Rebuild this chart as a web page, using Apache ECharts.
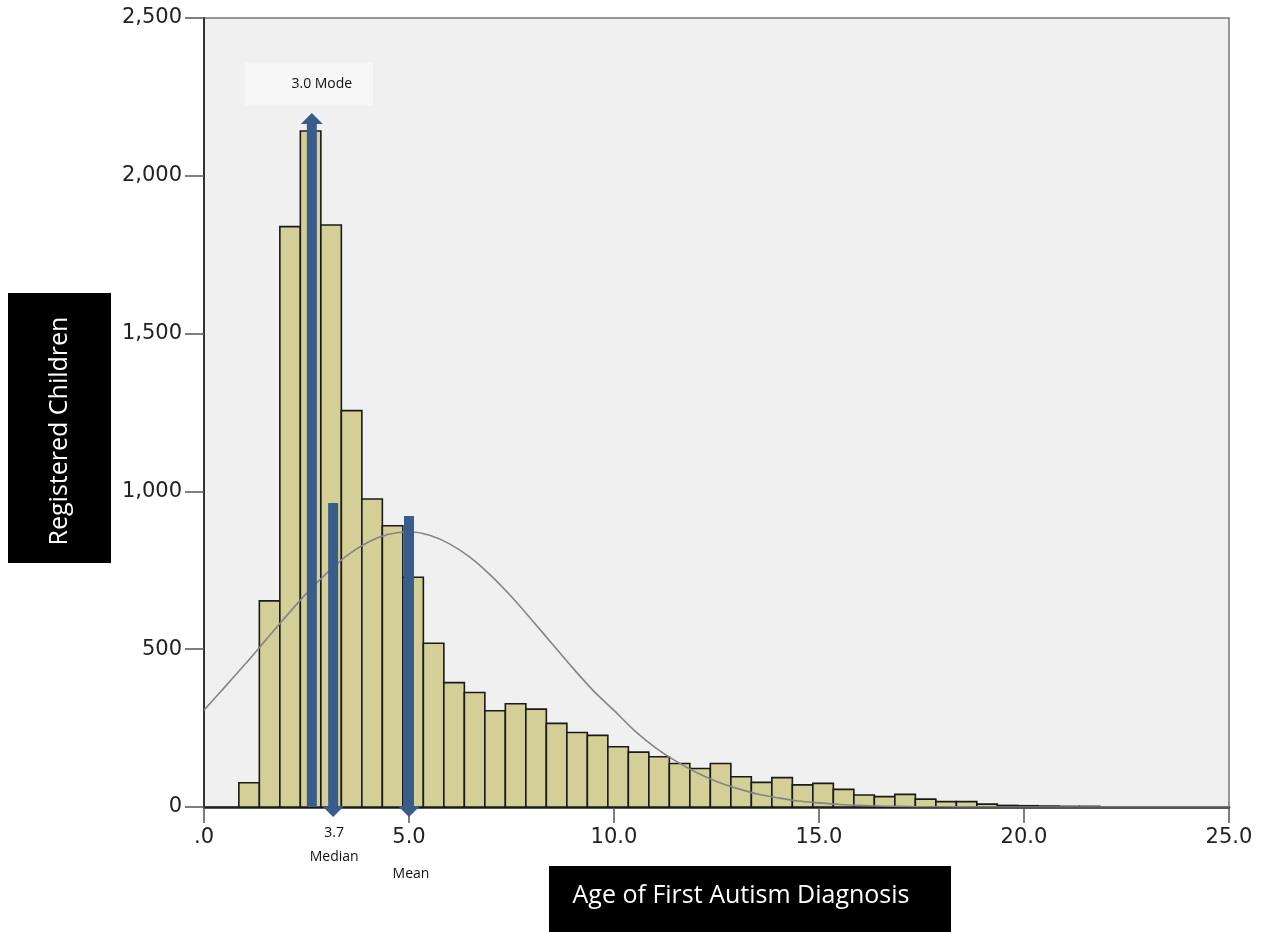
<!DOCTYPE html>
<html>
<head>
<meta charset="utf-8">
<script src="https://cdn.jsdelivr.net/npm/echarts@6/dist/echarts.min.js"></script>
<style>html,body{margin:0;padding:0;background:#fff;}#c{width:1261px;height:932px;}</style>
</head>
<body>
<div id="c"></div>
<script>
// ---- data ----
const BIN_WIDTH = 0.5;
const binStarts = [0.85,1.35,1.85,2.35,2.85,3.35,3.85,4.35,4.85,5.35,5.85,6.35,6.85,7.35,7.85,8.35,8.85,9.35,9.85,10.35,10.85,11.35,11.85,12.35,12.85,13.35,13.85,14.35,14.85,15.35,15.85,16.35,16.85,17.35,17.85,18.35,18.85,19.35,19.85,20.35,20.85,21.35];
const binCounts = [77,653,1839,2142,1844,1256,976,891,728,519,394,363,305,327,310,265,236,227,191,174,159,138,122,138,96,78,93,70,75,56,38,33,40,25,17,17,9,5,4,3,2,2];
const curveX = [0,0.5,1,1.5,2,2.5,3,3.5,4,4.5,5,5.5,6,6.5,7,7.5,8,8.5,9,9.5,10,10.5,11,11.5,12,12.5,13,13.5,14,14.5,15,15.5,16,16.5,17,17.5,18,19,20,21,22,23,24,25];
const curveY = [307,379,452,528,604,677,742,798,839,864,872,861,833,790,733,666,592,516,440,368,306,242,189,146,110,81,59,41,29,19,13,8,5,3,2,1,1,0,0,0,0,0,0,0];
const annotX = [2.63, 3.15, 5.0];
const annotTip = [2199, -32, -32];
const annotTail = [0, 963, 922];
const annotDir = [1, -1, -1];
const annotLabel = ['3.0 Mode', '3.7\nMedian', 'Mean'];
const xTicks = [0, 5, 10, 15, 20, 25];
const yTicks = [0, 500, 1000, 1500, 2000, 2500];
const xTitle = 'Age of First Autism Diagnosis';
const yTitle = 'Registered Children';

const histData = binStarts.map((s, i) => [s, s + BIN_WIDTH, binCounts[i]]);
const curveData = curveX.map((x, i) => [x, curveY[i]]);
const annotData = annotX.map((x, i) => [x, annotTip[i], annotTail[i], annotDir[i], i]);

const ARROW = '#385d8a';
const chart = echarts.init(document.getElementById('c'));
chart.setOption({
  backgroundColor: '#ffffff',
  animation: false,
  grid: { left: 204, right: 32, top: 18, bottom: 125, show: true, backgroundColor: '#f0f0f0', borderColor: '#777', borderWidth: 1.5 },
  xAxis: {
    type: 'value', min: xTicks[0], max: xTicks[xTicks.length - 1], interval: 5,
    axisLine: { show: true, onZero: false, lineStyle: { color: '#222', width: 2.5 } },
    axisTick: { show: true, length: 16, lineStyle: { color: '#555', width: 1.5 } },
    axisLabel: { margin: 20, color: '#222', fontFamily: 'DejaVu Sans', fontSize: 21,
      formatter: v => v === 0 ? '.0' : v.toFixed(1) },
    splitLine: { show: false }
  },
  yAxis: {
    type: 'value', min: yTicks[0], max: yTicks[yTicks.length - 1], interval: 500,
    axisLine: { show: true, lineStyle: { color: '#333', width: 2 } },
    axisTick: { show: true, length: 19, lineStyle: { color: '#555', width: 1.5 } },
    axisLabel: { margin: 22, color: '#222', fontFamily: 'DejaVu Sans', fontSize: 21,
      formatter: v => v.toLocaleString('en-US') },
    splitLine: { show: false }
  },
  series: [
    {
      type: 'custom', data: histData, z: 2,
      renderItem: (params, api) => {
        const p0 = api.coord([api.value(0), api.value(2)]);
        const p1 = api.coord([api.value(1), 0]);
        return { type: 'rect', shape: { x: p0[0], y: p0[1], width: p1[0] - p0[0], height: p1[1] - p0[1] },
          style: { fill: '#d3cf96', stroke: '#1a1a1a', lineWidth: 1.6 } };
      }
    },
    {
      type: 'line', data: curveData, smooth: 0.3, showSymbol: false, z: 3,
      lineStyle: { color: '#858585', width: 1.6 }
    },
    {
      type: 'custom', data: annotData, z: 4, clip: false,
      renderItem: (params, api) => {
        const x = api.value(0), dir = api.value(3), idx = api.value(4);
        const tip = api.coord([x, api.value(1)]);
        const tail = api.coord([x, api.value(2)]);
        const cx = tip[0], hl = 11, sw = 10, hw = 11;
        const children = [];
        if (dir > 0) {
          children.push({ type: 'rect', shape: { x: cx - sw / 2, y: tip[1] + hl, width: sw, height: tail[1] - tip[1] - hl }, style: { fill: ARROW } });
          children.push({ type: 'polygon', shape: { points: [[cx - hw, tip[1] + hl], [cx + hw, tip[1] + hl], [cx, tip[1]]] }, style: { fill: ARROW } });
        } else {
          children.push({ type: 'rect', shape: { x: cx - sw / 2, y: tail[1], width: sw, height: tip[1] - hl - tail[1] }, style: { fill: ARROW } });
          children.push({ type: 'polygon', shape: { points: [[cx - hw, tip[1] - hl], [cx + hw, tip[1] - hl], [cx, tip[1]]] }, style: { fill: ARROW } });
        }
        const font = '14px "Open Sans"';
        if (idx === 0) {
          children.push({ type: 'rect', shape: { x: cx - 67, y: tip[1] - 51, width: 128, height: 44 }, style: { fill: '#f6f6f6' } });
          children.push({ type: 'text', x: cx + 10, y: tip[1] - 29, style: { text: annotLabel[idx], font: font, fill: '#111', align: 'center', verticalAlign: 'middle' } });
        } else if (idx === 1) {
          children.push({ type: 'text', x: cx + 1, y: tip[1] + 28, style: { text: annotLabel[idx], font: font, fill: '#111', align: 'center', verticalAlign: 'middle', lineHeight: 24 } });
        } else {
          children.push({ type: 'text', x: cx + 2, y: tip[1] + 57, style: { text: annotLabel[idx], font: font, fill: '#111', align: 'center', verticalAlign: 'middle' } });
        }
        return { type: 'group', children: children };
      }
    }
  ],
  graphic: [
    { type: 'rect', left: 8, top: 293, shape: { width: 103, height: 270 }, style: { fill: '#000' }, z: 10 },
    { type: 'text', x: 60, y: 431, rotation: Math.PI / 2, style: { text: yTitle, fill: '#fff', font: '25px "Open Sans"', align: 'center', verticalAlign: 'middle' }, z: 11 },
    { type: 'rect', left: 549, top: 866, shape: { width: 402, height: 66 }, style: { fill: '#000' }, z: 10 },
    { type: 'text', x: 741, y: 896, style: { text: xTitle, fill: '#fff', font: '25px "Open Sans"', align: 'center', verticalAlign: 'middle' }, z: 11 }
  ]
});
</script>
</body>
</html>
